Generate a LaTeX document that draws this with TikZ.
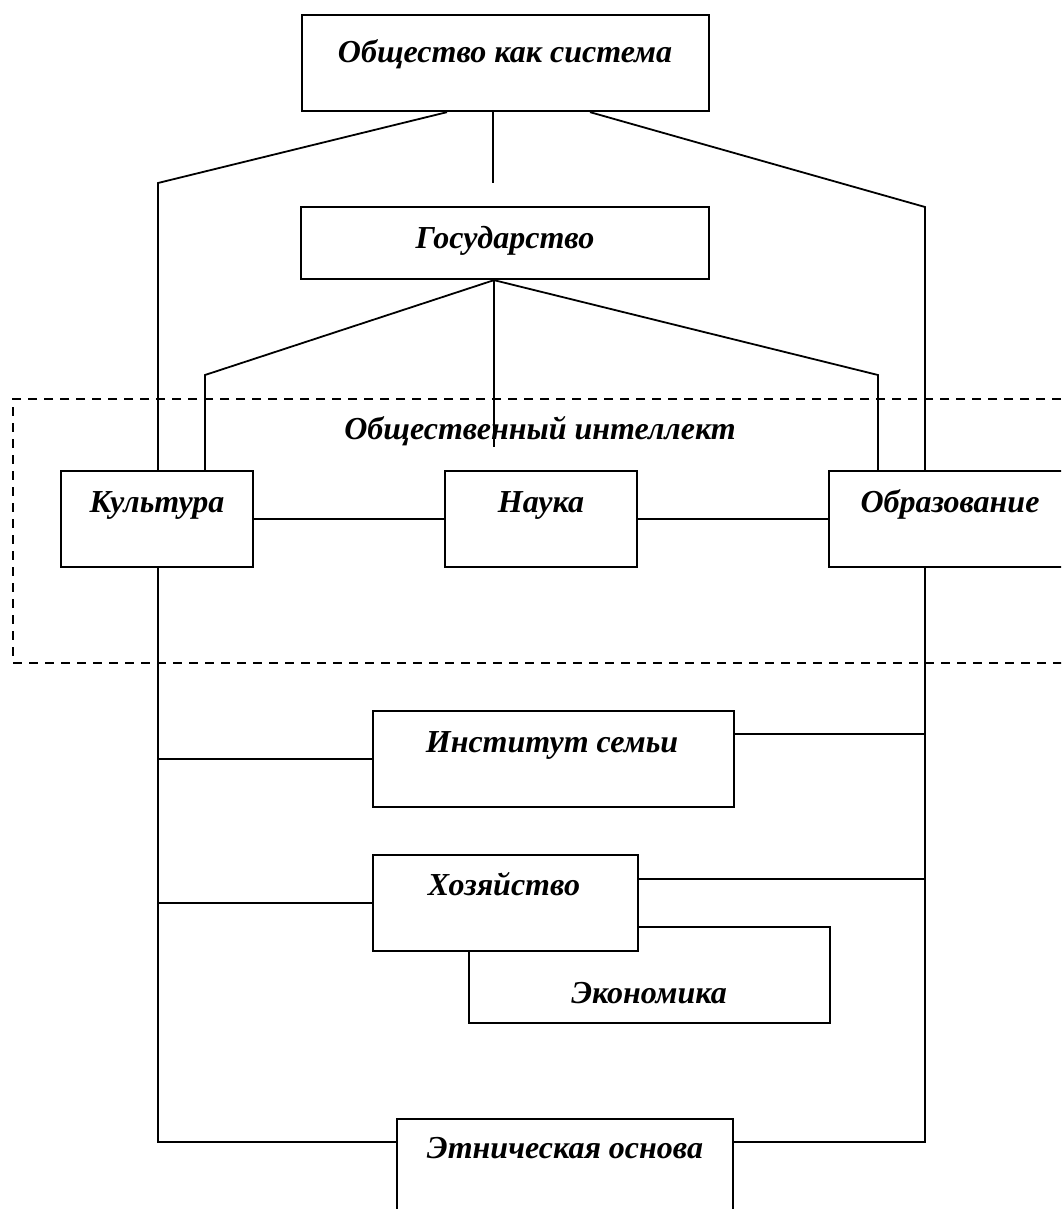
\documentclass[tikz,border=0pt]{standalone}
\usepackage{fontspec}
\setmainfont{Liberation Serif}
\begin{document}
\begin{tikzpicture}[x=1pt,y=-1pt,
  box/.style={draw, line width=2.3pt, fill=white, inner sep=0pt},
  conn/.style={line width=1.8pt},
  lbl/.style={anchor=base, inner sep=0pt, font=\fontsize{32}{38}\selectfont\bfseries\itshape},
  grpframe/.style={draw, dash pattern=on 9pt off 7pt, line width=1.8pt, inner sep=0pt}]
\useasboundingbox (0,0) rectangle (1061,1209);
\clip (0,0) rectangle (1061,1209);

% group frame
\node[grpframe, minimum width=1072pt, minimum height=264pt] (grp) at (549,531) {};

% boxes
\node[box, minimum width=407pt, minimum height=96pt] (soc) at (505.5,63) {};
\node[box, minimum width=408pt, minimum height=72pt] (gos) at (505,243) {};
\node[box, minimum width=192pt, minimum height=96pt] (cult) at (157,519) {};
\node[box, minimum width=192pt, minimum height=96pt] (nauka) at (541,519) {};
\node[box, minimum width=244pt, minimum height=96pt] (obr) at (951,519) {};
\node[box, minimum width=361pt, minimum height=96pt] (fam) at (553.5,759) {};
\node[box, minimum width=361pt, minimum height=96pt] (econ) at (649.5,975) {};
\node[box, minimum width=265pt, minimum height=96pt] (hoz) at (505.5,903) {};
\node[box, minimum width=336pt, minimum height=140pt] (eth) at (565,1189) {};

% labels
\node[lbl] (soclbl) at (505,63) {Общество как система};
\node[lbl] (goslbl) at (505,248) {Государство};
\node[lbl] (grplbl) at (540,439) {Общественный интеллект};
\node[lbl] (cultlbl) at (157,512) {Культура};
\node[lbl] (nauklbl) at (541,512) {Наука};
\node[lbl] (obrlbl) at (950,512) {Образование};
\node[lbl] (famlbl) at (552,752) {Институт семьи};
\node[lbl] (hozlbl) at (504,895) {Хозяйство};
\node[lbl] (econlbl) at (649,1003) {Экономика};
\node[lbl] (ethlbl) at (565,1158) {Этническая основа};

% bend points and free ends
\coordinate (Lc) at (158,183);
\coordinate (Rc) at (925,207);
\coordinate (M1) at (493,183);
\coordinate (GL) at (205,375);
\coordinate (GR) at (878,375);
\coordinate (M2) at (494,447);

% connectors from the top box
\draw[conn] ([xshift=-58.5pt]soc.south) -- (Lc) -- (cult.north -| Lc);
\draw[conn] ([xshift=-12.5pt]soc.south) -- (M1);
\draw[conn] ([xshift=84.5pt]soc.south) -- (Rc) -- (obr.north -| Rc);

% connectors from the state box
\draw[conn] ([xshift=-11pt]gos.south) -- (GL) -- (GL |- cult.north);
\draw[conn] ([xshift=-11pt]gos.south) -- (M2);
\draw[conn] ([xshift=-11pt]gos.south) -- (GR) -- (GR |- obr.north);

% horizontal links
\draw[conn] (cult.east) -- (nauka.west);
\draw[conn] (nauka.east) -- (obr.west);

% long verticals down to the ethnic base
\draw[conn] (cult.south -| Lc) |- ([yshift=-24pt]eth.north west);
\draw[conn] (obr.south -| Rc) |- ([yshift=-24pt]eth.north east);

% side links
\draw[conn] (fam.west) -- (fam.west -| Lc);
\draw[conn] ([yshift=25pt]fam.east) -- ([yshift=25pt]fam.east -| Rc);
\draw[conn] (hoz.west) -- (hoz.west -| Lc);
\draw[conn] ([yshift=24pt]hoz.east) -- ([yshift=24pt]hoz.east -| Rc);
\end{tikzpicture}
\end{document}
